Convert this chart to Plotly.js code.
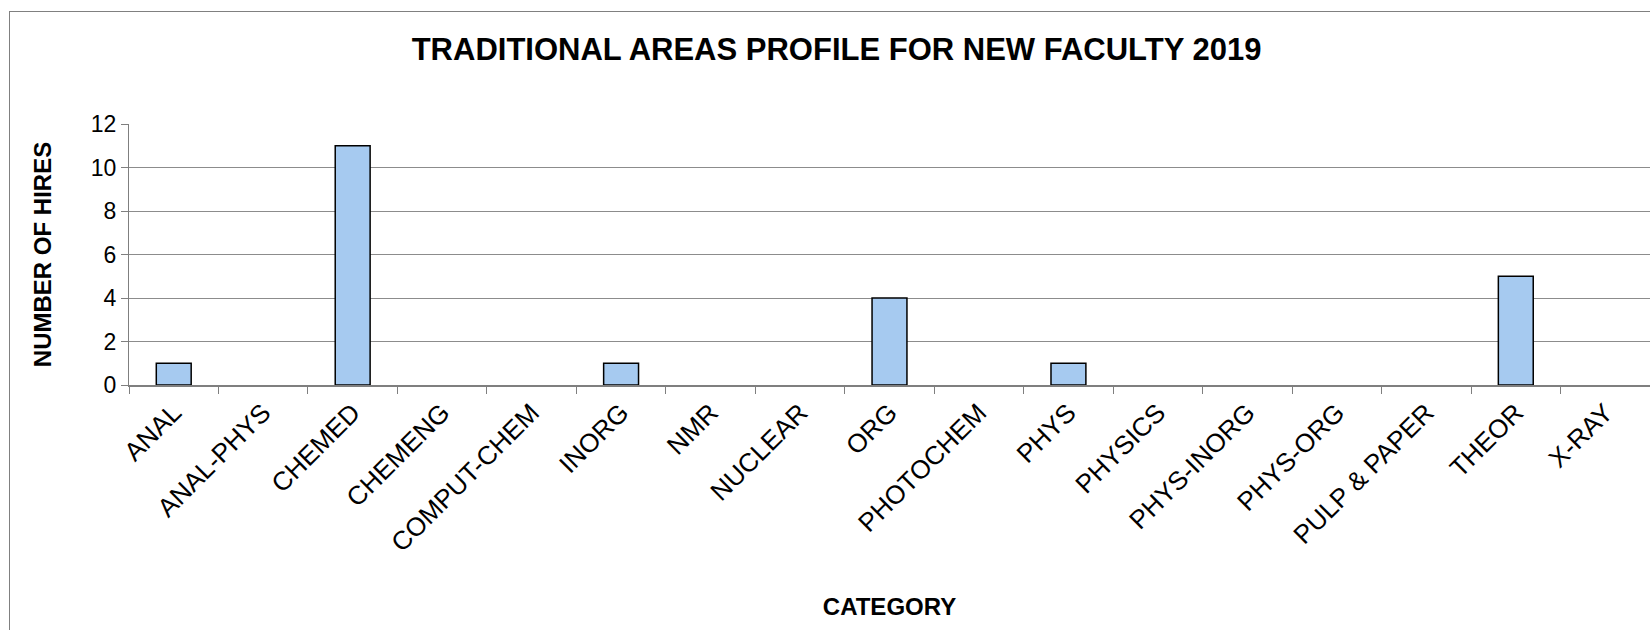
<!DOCTYPE html>
<html>
<head>
<meta charset="utf-8">
<script src="https://cdn.plot.ly/plotly-3.0.1.min.js"></script>
<style>
  body { margin: 0; background: #ffffff; }
  #wrap { position: relative; width: 1650px; height: 630px; overflow: hidden; }
  #frame { position: absolute; left: 9px; top: 11px; width: 1700px; height: 700px; border: 1px solid #808080; }
  #chart { position: absolute; left: 0; top: 0; width: 1650px; height: 630px; }
</style>
</head>
<body>
<div id="wrap">
  <div id="frame"></div>
  <div id="chart"></div>
</div>
<script>
const BAR_COLOR = "#a6caf0";
const GRID_COLOR = "#8c8c8c";
const AXIS_COLOR = "#7f7f7f";
const FONT = "Liberation Sans, Arial, sans-serif";

const categories = [
    "ANAL", "ANAL-PHYS", "CHEMED", "CHEMENG", "COMPUT-CHEM", "INORG", "NMR",
    "NUCLEAR", "ORG", "PHOTOCHEM", "PHYS", "PHYSICS", "PHYS-INORG", "PHYS-ORG",
    "PULP & PAPER", "THEOR", "X-RAY"
];
const hires = [1, 0, 11, 0, 0, 1, 0, 0, 4, 0, 1, 0, 0, 0, 0, 5, 0];
const yTicks = [0, 2, 4, 6, 8, 10, 12];

// empty categories get no outline (Excel draws nothing for a zero bar)
const outlineWidths = hires.map((v) => (v > 0 ? 1.5 : 0));

let bars = [
    {
        x: categories,
        y: hires,
        type: "bar",
        marker: {
            color: BAR_COLOR,
            line: { color: "#000000", width: outlineWidths },
        },
        hoverinfo: "none",
    },
];

let layout = {
    width: 1650,
    height: 630,
    margin: { l: 129, r: 0, t: 124, b: 245 },
    paper_bgcolor: "rgba(0,0,0,0)",
    plot_bgcolor: "rgba(0,0,0,0)",
    font: { family: FONT, color: "#000000" },
    showlegend: false,
    bargap: 0.61,
    title: {
        text: "<b>TRADITIONAL AREAS PROFILE FOR NEW FACULTY 2019</b>",
        font: { family: FONT, size: 31, color: "#000000" },
        x: 0.507,
        xref: "container",
        xanchor: "center",
        y: 0.922,
        yref: "container",
        yanchor: "middle",
    },
    xaxis: {
        type: "category",
        tickangle: -45,
        tickfont: { family: FONT, size: 26 },
        ticks: "outside",
        tickson: "boundaries",
        ticklen: 7,
        tickcolor: AXIS_COLOR,
        showline: true,
        linecolor: AXIS_COLOR,
        linewidth: 2,
        showgrid: false,
        zeroline: false,
        title: {
            text: "<b>CATEGORY</b>",
            font: { family: FONT, size: 24 },
            standoff: 42,
        },
    },
    yaxis: {
        range: [0, 12],
        tickvals: yTicks,
        tickfont: { family: FONT, size: 23 },
        ticks: "outside",
        ticklen: 7,
        tickcolor: AXIS_COLOR,
        showline: true,
        linecolor: AXIS_COLOR,
        linewidth: 1,
        showgrid: true,
        gridcolor: GRID_COLOR,
        gridwidth: 1,
        zeroline: false,
        title: {
            text: "<b>NUMBER OF HIRES</b>",
            font: { family: FONT, size: 24 },
            standoff: 32,
        },
    },
};

Plotly.newPlot("chart", bars, layout, { displayModeBar: false, staticPlot: true });
</script>
</body>
</html>
